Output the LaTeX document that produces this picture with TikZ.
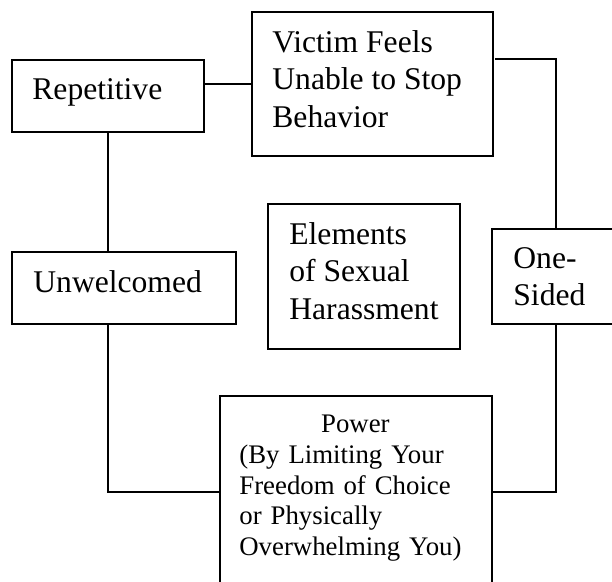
\documentclass[tikz,border=0pt]{standalone}
\usepackage{fontspec}
\setmainfont{Liberation Serif}
\usetikzlibrary{positioning}

\tikzset{
  elbox/.style={draw, line width=0.85pt, anchor=north west, inner sep=0pt},
  eltext/.style={anchor=north west, inner sep=0pt, align=left, font=\fontsize{15.8}{18.8}\selectfont},
  powtext/.style={anchor=north west, inner sep=0pt, align=left, text width=116pt, font=\fontsize{13.4}{15.3}\selectfont},
  link/.style={line width=0.85pt}
}

\begin{document}
\begin{tikzpicture}[x=0.5pt, y=-0.5pt]
  \useasboundingbox (0,0) rectangle (612,582);
  \clip (0,0) rectangle (612,582);

  % boxes
  \node[elbox, minimum width=96pt, minimum height=36pt] (rep) at (11,59) {};
  \node[elbox, minimum width=120.5pt, minimum height=72pt] (victim) at (251,11) {};
  \node[elbox, minimum width=96pt, minimum height=72.5pt] (elements) at (267,203) {};
  \node[elbox, minimum width=112pt, minimum height=36pt] (unw) at (11,251) {};
  \node[elbox, minimum width=64pt, minimum height=47.5pt] (onesided) at (491,228) {};
  \node[elbox, minimum width=136pt, minimum height=96pt] (power) at (219,395) {};

  % texts
  \node[eltext] (reptext) at ([shift={(21,19)}]rep.north west) {Repetitive};
  \node[eltext] (victimtext) at ([shift={(21,19)}]victim.north west) {Victim Feels\\Unable to Stop\\Behavior};
  \node[eltext] (elementstext) at ([shift={(22,19)}]elements.north west) {Elements\\of Sexual\\Harassment};
  \node[eltext] (unwtext) at ([shift={(22,19)}]unw.north west) {Unwelcomed};
  \node[eltext] (onesidedtext) at ([shift={(22,19)}]onesided.north west) {One-\\Sided};
  \node[powtext] (powertext) at ([shift={(20,20)}]power.north west)
    {\makebox[\linewidth]{Power}\\(By Limiting Your\\Freedom of Choice\\or Physically\\Overwhelming You)};

  % connectors
  \coordinate (vicout) at (495,59);
  \draw[link] (rep.east |- victim.west) -- (victim.west);
  \draw[link] (rep.south) -- (rep.south |- unw.north);
  \draw[link] (vicout) -| (onesided.north);
  \draw[link] (rep.south |- unw.south) |- (power.west);
  \draw[link] (onesided.south) |- (power.east);
\end{tikzpicture}
\end{document}
